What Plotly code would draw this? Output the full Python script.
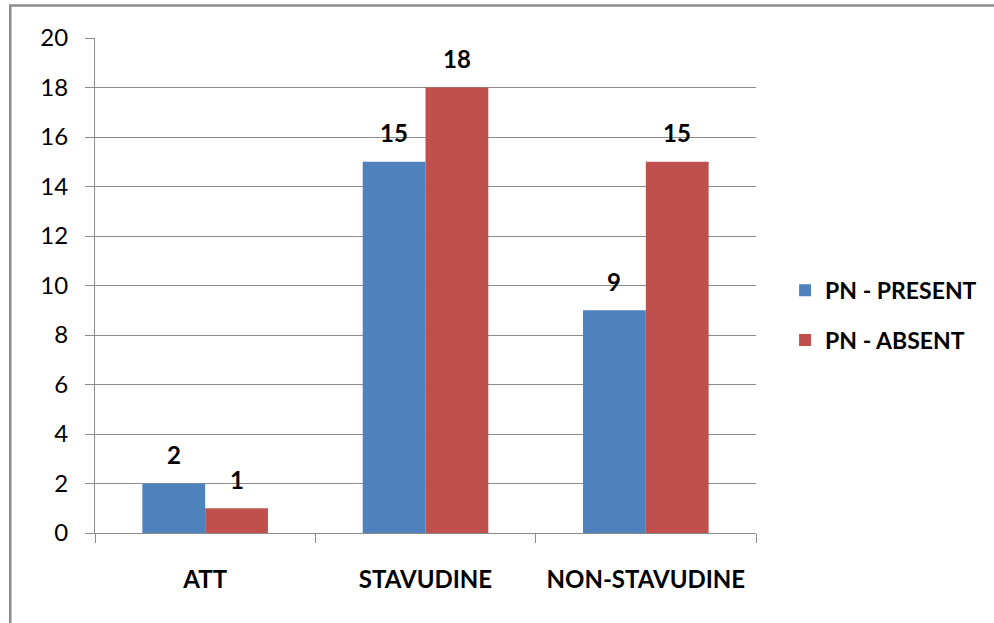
import plotly.graph_objects as go

categories = ["ATT", "STAVUDINE", "NON-STAVUDINE"]
pn_present = [2, 15, 9]
pn_absent = [1, 18, 15]
y_ticks = [0, 2, 4, 6, 8, 10, 12, 14, 16, 18, 20]

FONT = "Lato, 'Open Sans', sans-serif"
W, H = 994, 623
ML, MR, MT, MB = 95, 236, 38, 90
BARGAP = 0.43

fig = go.Figure()
fig.add_trace(go.Bar(x=categories, y=pn_present, name="PN - PRESENT", legendgroup="a",
                     marker=dict(color="#4F81BD", line=dict(width=0))))
fig.add_trace(go.Bar(x=categories, y=pn_absent, name="PN - ABSENT", legendgroup="b",
                     marker=dict(color="#C0504D", line=dict(width=0))))

# data labels above each bar (offset derived from the bar layout)
plot_w = W - ML - MR
bar_px = plot_w / len(categories) * (1 - BARGAP) / 2
for vals, sign in ((pn_present, -1), (pn_absent, 1)):
    for c, v in zip(categories, vals):
        fig.add_annotation(x=c, y=v, text=f"<b>{v}</b>", showarrow=False,
                           xshift=sign * bar_px / 2, yshift=29, yanchor="middle",
                           font=dict(family=FONT, size=24, color="black"))

fig.update_layout(
    width=W, height=H,
    margin=dict(l=ML, r=MR, t=MT, b=MB),
    paper_bgcolor="white", plot_bgcolor="white",
    barmode="group", bargap=BARGAP, bargroupgap=0,
    font=dict(family=FONT, size=24, color="black"),
    legend=dict(x=1.044, xanchor="left", y=0.44, yanchor="middle",
                font=dict(family=FONT, size=23, color="black", weight="bold"),
                tracegroupgap=17, itemwidth=30, bgcolor="rgba(0,0,0,0)"),
    showlegend=True,
)
fig.update_yaxes(range=[0, 20], tickvals=y_ticks, showgrid=True, gridcolor="#8c8c8c",
                 gridwidth=1, showline=True, linecolor="#8c8c8c", linewidth=1,
                 ticks="outside", ticklen=9, tickcolor="#8c8c8c", zeroline=False,
                 tickfont=dict(family=FONT, size=24, color="black"), ticklabelstandoff=12)
fig.update_xaxes(showline=True, linecolor="#8c8c8c", linewidth=1, ticks="outside",
                 tickson="boundaries", ticklen=9, tickcolor="#8c8c8c",
                 tickfont=dict(family=FONT, size=24, color="black", weight="bold"),
                 ticklabelstandoff=25)

fig.add_shape(type="rect", xref="paper", yref="paper",
              x0=(10 - ML) / plot_w, x1=1.6, y0=-0.3, y1=1 + (MT - 5.5) / (H - MT - MB),
              line=dict(color="#8c8c8c", width=2.5), fillcolor="rgba(0,0,0,0)", layer="below")

fig.write_html("out.html", config={"displayModeBar": False},
               post_script="document.body.style.margin='0';document.body.style.overflow='hidden';")
